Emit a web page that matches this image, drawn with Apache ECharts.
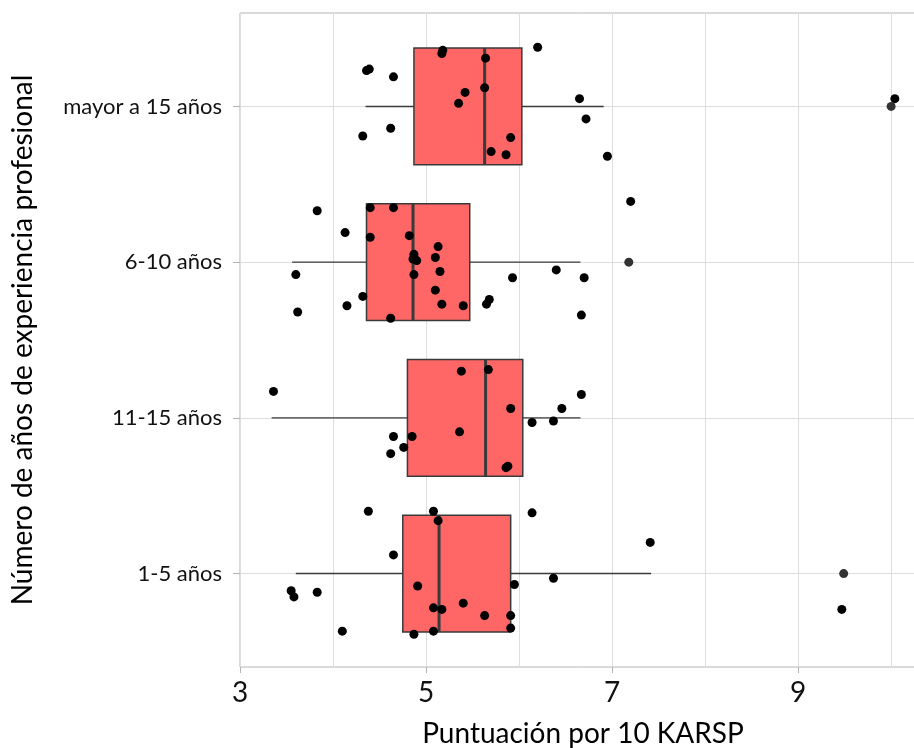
<!DOCTYPE html>
<html>
<head>
<meta charset="utf-8">
<script src="https://cdn.jsdelivr.net/npm/echarts@6/dist/echarts.min.js"></script>
<style>
  html, body { margin: 0; padding: 0; background: #fff; }
  #chart { width: 914px; height: 748px; }
</style>
</head>
<body>
<div id="chart"></div>
<script>
// categorias (eje y, de abajo hacia arriba)
var categories = ["1-5 años", "11-15 años", "6-10 años", "mayor a 15 años"];
var catPos = [1, 2, 3, 4];
var xTicks = [3, 5, 7, 9];

// cajas por categoria
var boxLow = [3.60, 3.34, 3.56, 4.35];
var boxQ1 = [4.75, 4.80, 4.36, 4.87];
var boxMedian = [5.14, 5.64, 4.86, 5.63];
var boxQ3 = [5.91, 6.04, 5.47, 6.03];
var boxHigh = [7.42, 6.66, 6.66, 6.91];

// atipicos del boxplot
var outliers = [[9.49, 1], [7.18, 3], [10.0, 4]];

// puntos con jitter [puntuacion, posicion]
var pts15 = [
  [4.38, 1.40], [5.08, 1.40], [5.13, 1.34], [6.14, 1.39], [7.41, 1.20],
  [4.65, 1.12], [6.37, 0.97], [5.95, 0.93], [4.91, 0.92], [3.55, 0.89],
  [3.58, 0.85], [3.83, 0.88], [5.08, 0.78], [5.17, 0.77], [5.40, 0.81],
  [5.63, 0.73], [5.91, 0.73], [5.91, 0.65], [4.10, 0.63], [4.87, 0.61],
  [5.08, 0.63], [9.47, 0.77]
];
var pts1115 = [
  [3.36, 2.17], [5.38, 2.30], [5.67, 2.31], [6.67, 2.15], [6.46, 2.06],
  [5.91, 2.06], [6.14, 1.97], [6.37, 1.98], [4.65, 1.88], [4.85, 1.88],
  [5.36, 1.91], [4.76, 1.81], [4.62, 1.77], [5.88, 1.69], [5.86, 1.68]
];
var pts610 = [
  [7.20, 3.39], [3.83, 3.33], [4.40, 3.35], [4.65, 3.35], [4.13, 3.19],
  [4.40, 3.16], [4.82, 3.17], [5.13, 3.10], [4.87, 3.05], [4.86, 3.02],
  [4.90, 3.01], [5.10, 3.03], [3.60, 2.92], [4.87, 2.92], [5.15, 2.94],
  [5.93, 2.90], [6.40, 2.95], [6.70, 2.90], [5.10, 2.82], [4.32, 2.78],
  [5.68, 2.76], [5.65, 2.73], [4.15, 2.72], [5.17, 2.73], [5.40, 2.72],
  [3.62, 2.68], [4.62, 2.64], [6.67, 2.66]
];
var ptsMayor = [
  [5.18, 4.36], [5.17, 4.34], [5.64, 4.31], [6.20, 4.38], [4.39, 4.24],
  [4.36, 4.23], [4.65, 4.19], [5.63, 4.12], [5.42, 4.09], [5.35, 4.02],
  [6.65, 4.05], [10.04, 4.05], [6.72, 3.92], [4.62, 3.86], [4.32, 3.81],
  [5.91, 3.80], [5.70, 3.71], [5.86, 3.69], [6.95, 3.68]
];

var boxData = catPos.map(function (c, i) {
  return [c, boxLow[i], boxQ1[i], boxMedian[i], boxQ3[i], boxHigh[i]];
});
var jitter = pts15.concat(pts1115, pts610, ptsMayor);

var lineCol = "#3a3a3a";
var halfBox = 0.375;

// caja estilo ggplot: sin remates en los bigotes y mediana gruesa
function renderBox(params, api) {
  var c = api.value(0);
  var pLow = api.coord([api.value(1), c]);
  var pQ1 = api.coord([api.value(2), c]);
  var pQ3 = api.coord([api.value(4), c]);
  var pHigh = api.coord([api.value(5), c]);
  var tl = api.coord([api.value(2), c + halfBox]);
  var br = api.coord([api.value(4), c - halfBox]);
  var mTop = api.coord([api.value(3), c + halfBox]);
  var mBot = api.coord([api.value(3), c - halfBox]);
  return {
    type: "group",
    children: [
      {
        type: "line",
        shape: { x1: pLow[0], y1: pLow[1], x2: pQ1[0], y2: pQ1[1] },
        style: { stroke: lineCol, lineWidth: 1.4 }
      },
      {
        type: "line",
        shape: { x1: pQ3[0], y1: pQ3[1], x2: pHigh[0], y2: pHigh[1] },
        style: { stroke: lineCol, lineWidth: 1.4 }
      },
      {
        type: "rect",
        shape: { x: tl[0], y: tl[1], width: br[0] - tl[0], height: br[1] - tl[1] },
        style: { fill: "#ff6666", stroke: lineCol, lineWidth: 1.5 }
      },
      {
        type: "line",
        shape: { x1: mTop[0], y1: mTop[1], x2: mBot[0], y2: mBot[1] },
        style: { stroke: lineCol, lineWidth: 3 }
      }
    ]
  };
}

var chart = echarts.init(document.getElementById("chart"), null, { renderer: "canvas" });

var option = {
  animation: false,
  backgroundColor: "#ffffff",
  textStyle: { fontFamily: "Lato" },
  grid: {
    left: 240,
    right: -12,
    top: 13,
    bottom: 81,
    outerBoundsMode: "none",
    show: true,
    borderColor: "#b3b3b3",
    borderWidth: 1
  },
  xAxis: [
    {
      type: "value",
      min: 3,
      max: 10.375,
      interval: 1,
      position: "bottom",
      name: "Puntuación por 10 KARSP",
      nameLocation: "middle",
      nameGap: 53,
      nameTextStyle: { fontSize: 28, color: "#000" },
      axisLine: { show: false },
      axisTick: { show: false },
      axisLabel: {
        margin: 12,
        fontSize: 28,
        color: "#111",
        formatter: function (v) {
          return xTicks.indexOf(v) >= 0 ? String(v) : "";
        }
      },
      splitLine: { show: true, lineStyle: { color: "#dedede", width: 1 } }
    },
    {
      type: "value",
      min: 3,
      max: 10.375,
      position: "bottom",
      axisLine: { show: false },
      axisLabel: { show: false },
      splitLine: { show: false },
      axisTick: {
        show: true,
        length: 6,
        customValues: xTicks,
        lineStyle: { color: "#b3b3b3" }
      }
    }
  ],
  yAxis: {
    type: "value",
    min: 0.4,
    max: 4.6,
    name: "Número de años de experiencia profesional",
    nameLocation: "middle",
    nameGap: 203,
    nameTextStyle: { fontSize: 28, color: "#000" },
    axisLine: { show: false },
    axisTick: {
      show: true,
      length: 7,
      customValues: catPos,
      lineStyle: { color: "#b3b3b3" }
    },
    axisLabel: {
      margin: 18,
      fontSize: 22,
      color: "#111",
      customValues: catPos,
      formatter: function (v) {
        return categories[v - 1] || "";
      }
    },
    splitLine: { show: true, lineStyle: { color: "#dedede", width: 1 } }
  },
  series: [
    {
      type: "custom",
      data: boxData,
      encode: { x: [1, 2, 3, 4, 5], y: 0 },
      renderItem: renderBox,
      z: 2
    },
    {
      type: "scatter",
      data: outliers,
      symbolSize: 9,
      itemStyle: { color: "#333333", opacity: 1 },
      z: 4
    },
    {
      type: "scatter",
      data: jitter,
      symbolSize: 9,
      itemStyle: { color: "#000000", opacity: 1 },
      z: 5
    }
  ]
};

chart.setOption(option);
</script>
</body>
</html>
